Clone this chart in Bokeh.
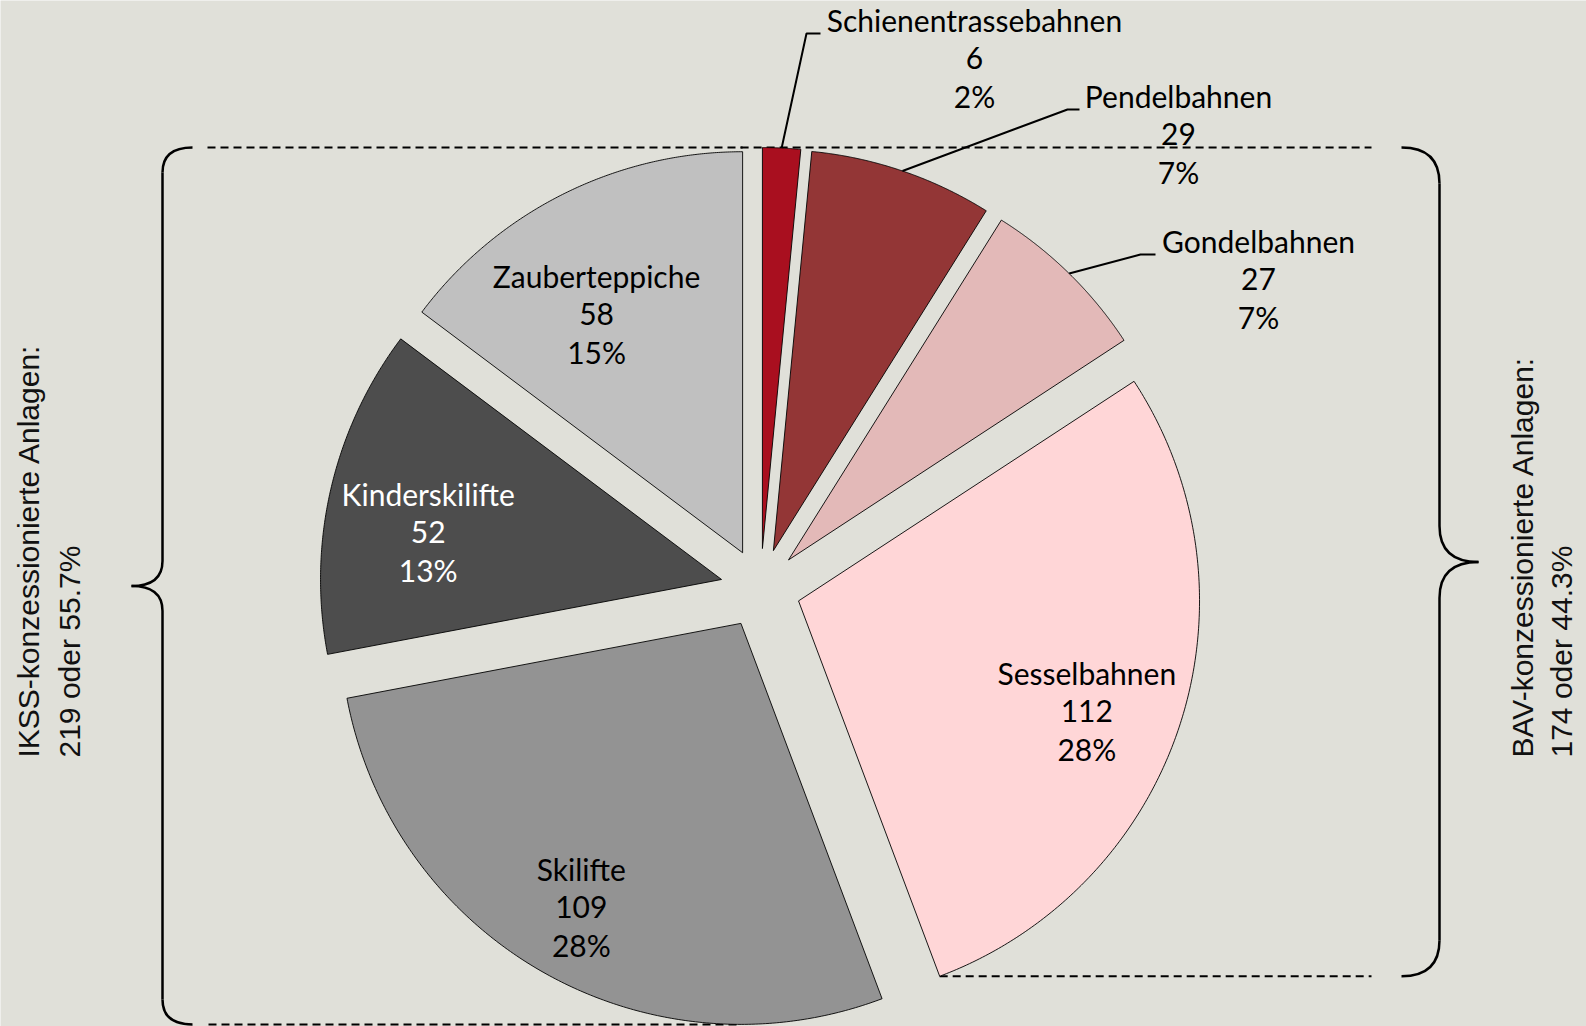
import numpy as np
from bokeh.plotting import figure
from bokeh.models import Range1d
from bokeh.embed import file_html
from bokeh.resources import INLINE
from bokeh.core.properties import value

# ---------------- data ----------------
categories = ["Schienentrassebahnen", "Pendelbahnen", "Gondelbahnen", "Sesselbahnen",
              "Skilifte", "Kinderskilifte", "Zauberteppiche"]
counts = [6, 29, 27, 112, 109, 52, 58]
pct_labels = ["2%", "7%", "7%", "28%", "28%", "13%", "15%"]
bav_group = ["Schienentrassebahnen", "Pendelbahnen", "Gondelbahnen", "Sesselbahnen"]
ikss_group = ["Skilifte", "Kinderskilifte", "Zauberteppiche"]

colors = ["#a90f1f", "#933636", "#e3b9b8", "#ffd6d7", "#939393", "#4d4d4d", "#c0c0c0"]
text_colors = ["black", "black", "black", "black", "black", "white", "black"]
BG = "#e0e0d9"

# ---------------- layout ----------------
W, H = 1586, 1026
OFF = 0                       # data coords == page pixels
CX, CY = 760.0, 588.0         # pie centre
R = 401.0                     # radius
EXPL = 40.0                   # explode distance
LINE_H = 38                   # label line spacing
TEXT_SHIFT = -12              # label baseline correction
FONT = value("Lato")
FS = "30px"

p = figure(width=W, height=H, output_backend="svg", toolbar_location=None,
           x_range=Range1d(OFF, OFF + W), y_range=Range1d(OFF + H, OFF),
           min_border=0, background_fill_color=BG, border_fill_color=BG,
           outline_line_color=None)
p.axis.visible = False
p.grid.visible = False


def pt(x0, y0, r, a_deg):
    a = np.radians(a_deg)
    return x0 + r * np.sin(a), y0 - r * np.cos(a)


total = float(sum(counts))
cum = np.concatenate([[0], np.cumsum(counts)]) / total * 360.0
starts, ends = cum[:-1], cum[1:]
mids = (starts + ends) / 2

apex = [pt(CX, CY, EXPL, m) for m in mids]

xs, ys = [], []
for i in range(len(counts)):
    ax, ay = apex[i]
    angs = np.linspace(starts[i], ends[i], 200)
    px, py = pt(ax, ay, R, angs)
    xs.append([ax] + list(px) + [ax])
    ys.append([ay] + list(py) + [ay])

# geometry references for braces / dashed lines
pie_top = min(min(y) for y in ys)
idx = {c: i for i, c in enumerate(categories)}
left_bottom = max(max(ys[idx[c]]) for c in ikss_group)
ses = idx["Sesselbahnen"]
ses_end = pt(apex[ses][0], apex[ses][1], R, ends[ses])
ski = idx["Skilifte"]
ski_low_x = xs[ski][int(np.argmax(ys[ski]))]
zau = idx["Zauberteppiche"]

# dashed guide lines (under the slices)
dash = dict(line_color="black", line_width=2, line_dash="8 5")
p.segment(x0=[207, apex[zau][0] - 2], y0=[pie_top, pie_top],
          x1=[apex[zau][0], 1371], y1=[pie_top, pie_top], **dash)
p.segment(x0=[208], y0=[left_bottom], x1=[ski_low_x], y1=[left_bottom], **dash)
p.segment(x0=[ses_end[0]], y0=[ses_end[1]], x1=[1371], y1=[ses_end[1]], **dash)

# slices
p.patches(xs, ys, fill_color=colors, line_color="black", line_width=0.9)

# inside labels: (radius from apex to middle line, angle nudge)
inside = {"Sesselbahnen": (309, 3), "Skilifte": (326, 0),
          "Kinderskilifte": (297, -4), "Zauberteppiche": (279, -5)}
# outside labels: (centre x, knee y, knee x, line end x)
outside = {"Schienentrassebahnen": (974, 33, 806, 820),
           "Pendelbahnen": (1178, 109, 1067, 1079),
           "Gondelbahnen": (1258, 254, 1140, 1155)}

tx, ty, tt, tc = [], [], [], []
for c, (rr, nudge) in inside.items():
    i = idx[c]
    mx, my = pt(apex[i][0], apex[i][1], rr, mids[i] + nudge)
    base = my + 11 + TEXT_SHIFT
    for k, s in enumerate([c, str(counts[i]), pct_labels[i]]):
        tx.append(mx); ty.append(base + (k - 1) * LINE_H); tt.append(s); tc.append(text_colors[i])

lx, ly = [], []
for c, (cx_, ky, kx, ex) in outside.items():
    i = idx[c]
    b1 = ky - 2 + TEXT_SHIFT
    for k, s in enumerate([c, str(counts[i]), pct_labels[i]]):
        tx.append(cx_); ty.append(b1 + k * LINE_H); tt.append(s); tc.append(text_colors[i])
    sx, sy = pt(apex[i][0], apex[i][1], R, mids[i])
    lx.append([sx, kx, ex]); ly.append([sy, ky, ky])

p.multi_line(lx, ly, line_color="black", line_width=2)

p.text(x=tx, y=ty, text=tt, text_color=tc, text_font=FONT, text_font_size=FS,
       text_align="center", text_baseline="alphabetic")


# braces
def brace(xv, xtip, xend, top, bottom, arm):
    mid = (top + bottom) / 2
    q = dict(line_color="black", line_width=2.5)
    p.quadratic(x0=[xend, xv, xv, xv], y0=[top, mid - arm, mid + arm, bottom - arm],
                x1=[xv, xtip, xtip, xend], y1=[top + arm, mid, mid, bottom],
                cx=[xv, xv, xv, xv], cy=[top, mid, mid, bottom], **q)
    p.segment(x0=[xv, xv], y0=[top + arm, mid + arm], x1=[xv, xv],
              y1=[mid - arm, bottom - arm], **q)


brace(162, 131, 192, pie_top, left_bottom, 25)
brace(1439, 1478, 1401, pie_top, ses_end[1], 36)

# group texts
ikss_n = sum(counts[idx[c]] for c in ikss_group)
bav_n = sum(counts[idx[c]] for c in bav_group)
side_font = value("Liberation Sans")
g = dict(text_font=side_font, text_font_size="30px", text_color="#111111",
         angle=np.pi / 2, text_align="left", text_baseline="alphabetic")
p.text(x=[28, 69], y=[757, 757],
       text=["IKSS-konzessionierte Anlagen:", f"{ikss_n} oder {ikss_n / total * 100:.1f}%"], **g)
p.text(x=[1522, 1561], y=[757, 757],
       text=["BAV-konzessionierte Anlagen:", f"{bav_n} oder {bav_n / total * 100:.1f}%"], **g)

open("out.html", "w").write(file_html(p, INLINE))
